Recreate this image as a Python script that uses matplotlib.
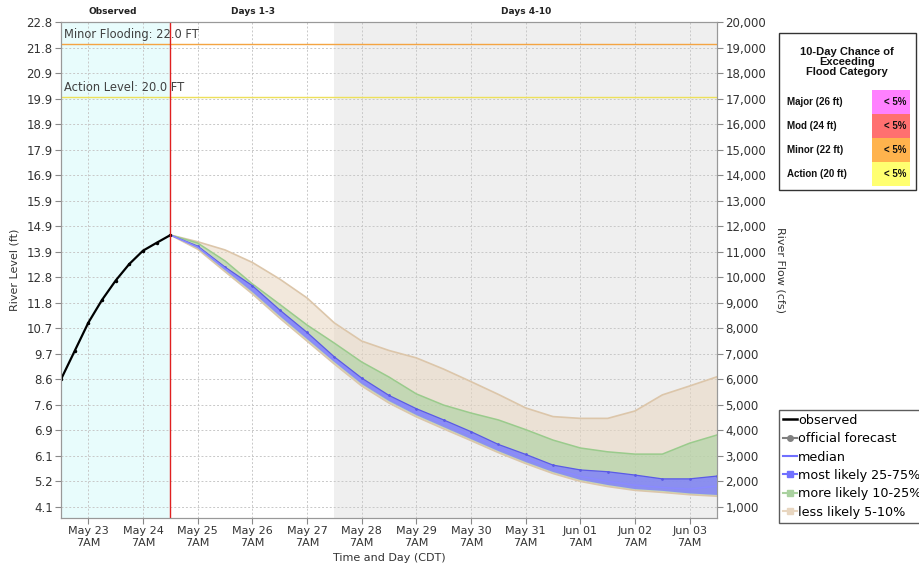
import matplotlib
matplotlib.use("Agg")
import matplotlib.pyplot as plt
import matplotlib.dates as mdates
from matplotlib.lines import Line2D
from matplotlib.patches import Rectangle
import pandas as pd

# ---------------- data ----------------
obs_times = pd.date_range("2023-05-22 19:00", periods=9, freq="6h")
obs_flow = [6000, 7110, 8220, 9110, 9870, 10520, 11040, 11350, 11650]

fc_times = pd.date_range("2023-05-24 19:00", periods=21, freq="12h")
p95 = [11655, 11390, 11070, 10580, 9930, 9190, 8210, 7500, 7130, 6840, 6400,
       5910, 5410, 4880, 4540, 4470, 4470, 4760, 5390, 5740, 6100]
p90 = [11655, 11340, 10640, 9740, 8940, 8130, 7420, 6680, 6090, 5430, 4990,
       4680, 4410, 4030, 3620, 3310, 3160, 3070, 3070, 3500, 3820]
p75 = [11655, 11220, 10400, 9670, 8720, 7840, 6880, 6050, 5370, 4850, 4410,
       3950, 3450, 3060, 2640, 2450, 2380, 2250, 2100, 2100, 2210]
p50 = [11655, 11180, 10340, 9540, 8600, 7700, 6760, 5930, 5260, 4720, 4270,
       3800, 3320, 2900, 2500, 2200, 2000, 1850, 1760, 1700, 1820]
p25 = [11655, 11145, 10280, 9420, 8480, 7580, 6680, 5820, 5150, 4600, 4130,
       3660, 3190, 2760, 2370, 2060, 1860, 1700, 1630, 1530, 1470]
p10 = [11655, 11120, 10250, 9385, 8440, 7540, 6640, 5780, 5110, 4565, 4095,
       3630, 3160, 2730, 2340, 2030, 1830, 1675, 1600, 1505, 1445]
p5 = [11655, 11100, 10220, 9350, 8400, 7500, 6600, 5740, 5070, 4530, 4060,
      3600, 3130, 2700, 2310, 2000, 1800, 1650, 1570, 1480, 1420]

flow_ticks = [1000, 2000, 3000, 4000, 5000, 6000, 7000, 8000, 9000, 10000,
              11000, 12000, 13000, 14000, 15000, 16000, 17000, 18000, 19000, 20000]
stage_labels = ["4.1", "5.2", "6.1", "6.9", "7.6", "8.6", "9.7", "10.7", "11.8",
                "12.8", "13.9", "14.9", "15.9", "16.9", "17.9", "18.9", "19.9",
                "20.9", "21.8", "22.8"]
minor_flow, minor_label = 19140, "Minor Flooding: 22.0 FT"
action_flow, action_label = 17060, "Action Level: 20.0 FT"

table_rows = ["Major (26 ft)", "Mod (24 ft)", "Minor (22 ft)", "Action (20 ft)"]
table_vals = ["< 5%", "< 5%", "< 5%", "< 5%"]
table_cols = ["#ff80ff", "#ff7070", "#ffb34d", "#ffff70"]

t_start = pd.Timestamp("2023-05-22 19:00")
t_now = pd.Timestamp("2023-05-24 19:00")
t_day4 = pd.Timestamp("2023-05-27 19:00")
t_end = pd.Timestamp("2023-06-03 19:00")
xticks = pd.date_range("2023-05-23 07:00", periods=12, freq="24h")

# ---------------- figure ----------------
plt.rcParams["font.family"] = ["DejaVu Sans"]
fig = plt.figure(figsize=(9.2, 5.65), dpi=100)
ax = fig.add_axes([61 / 920, 47 / 565, 656 / 920, 496 / 565])

ax.set_xlim(t_start, t_end)
ax.set_ylim(567, 20000)

# background regions
ax.axvspan(t_start, t_now, color="#e8fcfc", zorder=0, lw=0)
ax.axvspan(t_day4, t_end, color="#efefef", zorder=0, lw=0)

# grid
ax.set_yticks(flow_ticks)
ax.set_xticks(xticks)
ax.grid(True, color="#c8c8c8", linestyle=(0, (2, 2)), linewidth=0.7, zorder=1)

# bands
ax.fill_between(fc_times, p5, p95, facecolor="#e8d6c0", alpha=0.55,
                edgecolor="none", zorder=2)
ax.plot(fc_times, p95, color="#dcc6aa", lw=1.2, zorder=2)
ax.plot(fc_times, p5, color="#dcc6aa", lw=1.2, zorder=2)
ax.fill_between(fc_times, p10, p90, facecolor="#a9d19f", alpha=0.6,
                edgecolor="none", zorder=3)
ax.plot(fc_times, p90, color="#9acb8c", lw=1.1, zorder=3)
ax.fill_between(fc_times, p25, p75, facecolor="#7d7dff", alpha=0.8,
                edgecolor="none", zorder=4)
ax.plot(fc_times, p75, color="#5a5ae6", lw=0.9, marker="o", ms=1.0, zorder=4)
ax.plot(fc_times, p50, color="#8a8aff", lw=1.1, zorder=5)

# observed
ax.plot(obs_times, obs_flow, color="black", lw=1.6, marker="o", ms=1.5, zorder=6)

# thresholds
ax.axhline(minor_flow, color="#f4a442", lw=1.0, zorder=3)
ax.axhline(action_flow, color="#ede05a", lw=1.0, zorder=3)
ax.text(0.005, minor_flow + 120, minor_label, transform=ax.get_yaxis_transform(),
        fontsize=8.3, color="#404040", va="bottom", ha="left", zorder=7)
ax.text(0.005, action_flow + 120, action_label, transform=ax.get_yaxis_transform(),
        fontsize=8.3, color="#404040", va="bottom", ha="left", zorder=7)

# current time line
ax.axvline(t_now, color="#e02020", lw=1.0, zorder=6)

# axes styling
ax.set_xticklabels([d.strftime("%b %d") + "\n7AM" for d in xticks], fontsize=8,
                   color="#333333")
ax.set_yticklabels(stage_labels, fontsize=8.5, color="#333333")
ax.tick_params(axis="both", length=4, color="#888888", pad=2)
for s in ax.spines.values():
    s.set_color("#999999")
ax.set_ylabel("River Level (ft)", fontsize=8, color="#333333", labelpad=5)
ax.set_xlabel("Time and Day (CDT)", fontsize=8, color="#333333", labelpad=4)

ax2 = ax.twinx()
ax2.set_ylim(ax.get_ylim())
ax2.set_yticks(flow_ticks)
ax2.set_yticklabels([f"{v:,}" for v in flow_ticks], fontsize=8.5, color="#333333")
ax2.tick_params(axis="y", length=4, color="#888888", pad=2)
for s in ax2.spines.values():
    s.set_color("#999999")
ax2.set_ylabel("River Flow (cfs)", fontsize=8, color="#333333", rotation=-90,
               labelpad=14)

# overlay in pixel coordinates
ov = fig.add_axes([0, 0, 1, 1], facecolor="none")
ov.set_xlim(0, 920)
ov.set_ylim(565, 0)
ov.axis("off")
ov.text(113, 12, "Observed", fontsize=6.5, fontweight="bold", ha="center",
        va="center", color="#222222")
ov.text(253, 12, "Days 1-3", fontsize=6.5, fontweight="bold", ha="center",
        va="center", color="#222222")
ov.text(526, 12, "Days 4-10", fontsize=6.5, fontweight="bold", ha="center",
        va="center", color="#222222")

# table
ov.add_patch(Rectangle((779, 33), 137, 157, facecolor="white",
                       edgecolor="#333333", lw=1.0))
ov.text(847, 62, "10-Day Chance of\nExceeding\nFlood Category",
        family=["Liberation Sans"], fontsize=8, fontweight="bold", ha="center",
        va="center", linespacing=1.0, color="#111111")
for i, (lab, val, col) in enumerate(zip(table_rows, table_vals, table_cols)):
    y0 = 90 + i * 24
    ov.add_patch(Rectangle((872, y0), 38, 24, facecolor=col, edgecolor="none"))
    ov.text(787, y0 + 12, lab, family=["Liberation Sans"], fontsize=7,
            fontweight="bold", ha="left", va="center", color="#111111")
    ov.text(906, y0 + 12, val, family=["Liberation Sans"], fontsize=7,
            fontweight="bold", ha="right", va="center", color="#111111")

# legend
handles = [
    Line2D([], [], color="black", lw=1.8),
    Line2D([], [], color="#808080", lw=1.5, marker="o", ms=4),
    Line2D([], [], color="#7070ff", lw=1.5),
    Line2D([], [], color="#7070ff", lw=1.5, marker="s", ms=4),
    Line2D([], [], color="#a9d19f", lw=1.5, marker="s", ms=4),
    Line2D([], [], color="#e8d6c0", lw=1.5, marker="s", ms=4),
]
labels = ["observed", "official forecast", "median", "most likely 25-75%",
          "more likely 10-25%", "less likely 5-10%"]
leg = fig.legend(handles, labels, loc="upper left",
                 bbox_to_anchor=(779 / 920, 1 - 410 / 565), fontsize=9.2,
                 frameon=True, fancybox=False, handlelength=1.1,
                 handletextpad=0.1, borderpad=0.3, labelspacing=0.42,
                 borderaxespad=0)
leg.get_frame().set_edgecolor("#333333")
leg.get_frame().set_linewidth(1.0)

fig.savefig("out.png", dpi=100)
